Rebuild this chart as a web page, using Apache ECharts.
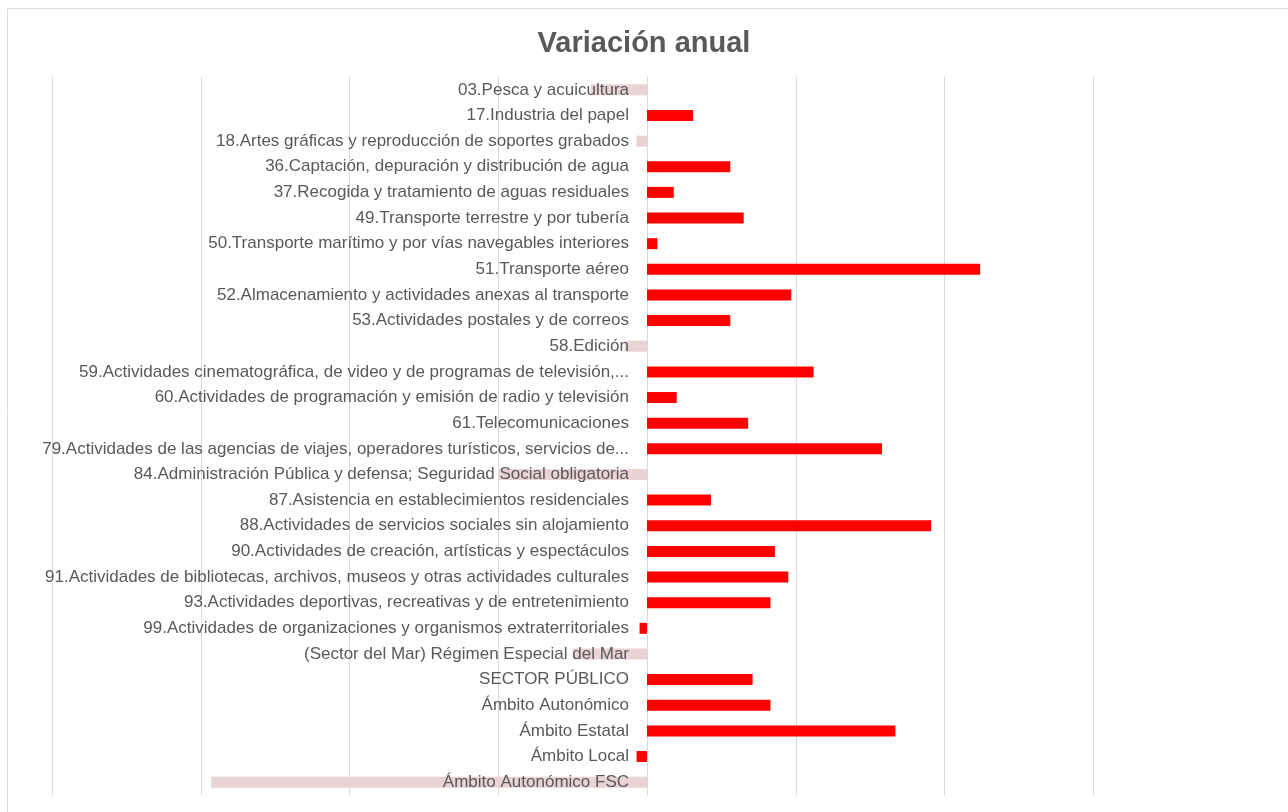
<!DOCTYPE html>
<html>
<head>
<meta charset="utf-8">
<script src="https://cdn.jsdelivr.net/npm/echarts@6/dist/echarts.min.js"></script>
<style>
  html, body { margin: 0; padding: 0; background: #fff; }
  #chart { width: 1288px; height: 812px; }
</style>
</head>
<body>
<div id="chart"></div>
<script>
var categories = [
    '03.Pesca y acuicultura',
    '17.Industria del papel',
    '18.Artes gráficas y reproducción de soportes grabados',
    '36.Captación, depuración y distribución de agua',
    '37.Recogida y tratamiento de aguas residuales',
    '49.Transporte terrestre y por tubería',
    '50.Transporte marítimo y por vías navegables interiores',
    '51.Transporte aéreo',
    '52.Almacenamiento y actividades anexas al transporte',
    '53.Actividades postales y de correos',
    '58.Edición',
    '59.Actividades cinematográfica, de video y de programas de televisión,...',
    '60.Actividades de programación y emisión de radio y televisión',
    '61.Telecomunicaciones',
    '79.Actividades de las agencias de viajes, operadores turísticos, servicios de...',
    '84.Administración Pública y defensa; Seguridad Social obligatoria',
    '87.Asistencia en establecimientos residenciales',
    '88.Actividades de servicios sociales sin alojamiento',
    '90.Actividades de creación, artísticas y espectáculos',
    '91.Actividades de bibliotecas, archivos, museos y otras actividades culturales',
    '93.Actividades deportivas, recreativas y de entretenimiento',
    '99.Actividades de organizaciones y organismos extraterritoriales',
    '(Sector del Mar) Régimen Especial del Mar',
    'SECTOR PÚBLICO',
    'Ámbito Autonómico',
    'Ámbito Estatal',
    'Ámbito Local',
    'Ámbito Autonómico FSC'
];

var values = [
    -0.38, 0.31, -0.07, 0.56, 0.18, 0.65, 0.07, 2.24, 0.97, 0.56,
    -0.15, 1.12, 0.20, 0.68, 1.58, -1.00, 0.43, 1.91, 0.86, 0.95,
    0.83, -0.05, -0.50, 0.71, 0.83, 1.67, -0.07, -2.93
];

// categories whose bar is drawn faded in the original
var fadedCats = [
    '03.Pesca y acuicultura',
    '18.Artes gráficas y reproducción de soportes grabados',
    '58.Edición',
    '84.Administración Pública y defensa; Seguridad Social obligatoria',
    '(Sector del Mar) Régimen Especial del Mar',
    'Ámbito Autonómico FSC'
];

function init() {
    var chart = echarts.init(document.getElementById('chart'));
    var red = '#ff0000';
    var pale = '#ead3d5';
    var gridLeft = 52, gridRight = 46, xMin = -4, xMax = 4;
    // distance from the grid's left edge to the zero line, so the labels sit on it
    var zeroOffset = (0 - xMin) / (xMax - xMin) * (1288 - gridLeft - gridRight);

    var barData = [];
    for (var i = 0; i < values.length; i++) {
        var faded = fadedCats.indexOf(categories[i]) >= 0;
        barData.push({
            value: values[i],
            itemStyle: { color: faded ? pale : red }
        });
    }

    chart.setOption({
        backgroundColor: '#fff',
        animation: false,
        title: {
            text: 'Variación anual',
            left: 'center',
            top: 24,
            textStyle: {
                fontFamily: 'Liberation Sans',
                fontSize: 29,
                fontWeight: 'bold',
                color: '#595959'
            }
        },
        graphic: [{
            type: 'rect',
            shape: { x: 7.5, y: 8.5, width: 1300, height: 820 },
            style: { fill: 'none', stroke: '#d9d9d9', lineWidth: 1 },
            silent: true
        }],
        grid: {
            left: gridLeft,
            right: gridRight,
            top: 77,
            bottom: 17,
            outerBoundsMode: 'none',
            containLabel: false
        },
        xAxis: {
            type: 'value',
            min: xMin,
            max: xMax,
            interval: 1,
            axisLabel: { show: false },
            axisLine: { show: false },
            axisTick: { show: false },
            splitLine: {
                show: true,
                showMaxLine: false,
                lineStyle: { color: '#d9d9d9', width: 1 }
            }
        },
        yAxis: {
            type: 'category',
            inverse: true,
            data: categories,
            z: 5,
            offset: -zeroOffset,
            axisLine: { show: false, onZero: false },
            axisTick: { show: false },
            axisLabel: {
                margin: 18,
                fontFamily: 'Liberation Sans',
                fontSize: 17,
                color: '#595959'
            }
        },
        series: [{
            type: 'bar',
            data: barData,
            barWidth: 11
        }]
    });
}
document.addEventListener('DOMContentLoaded', init);
</script>
</body>
</html>
